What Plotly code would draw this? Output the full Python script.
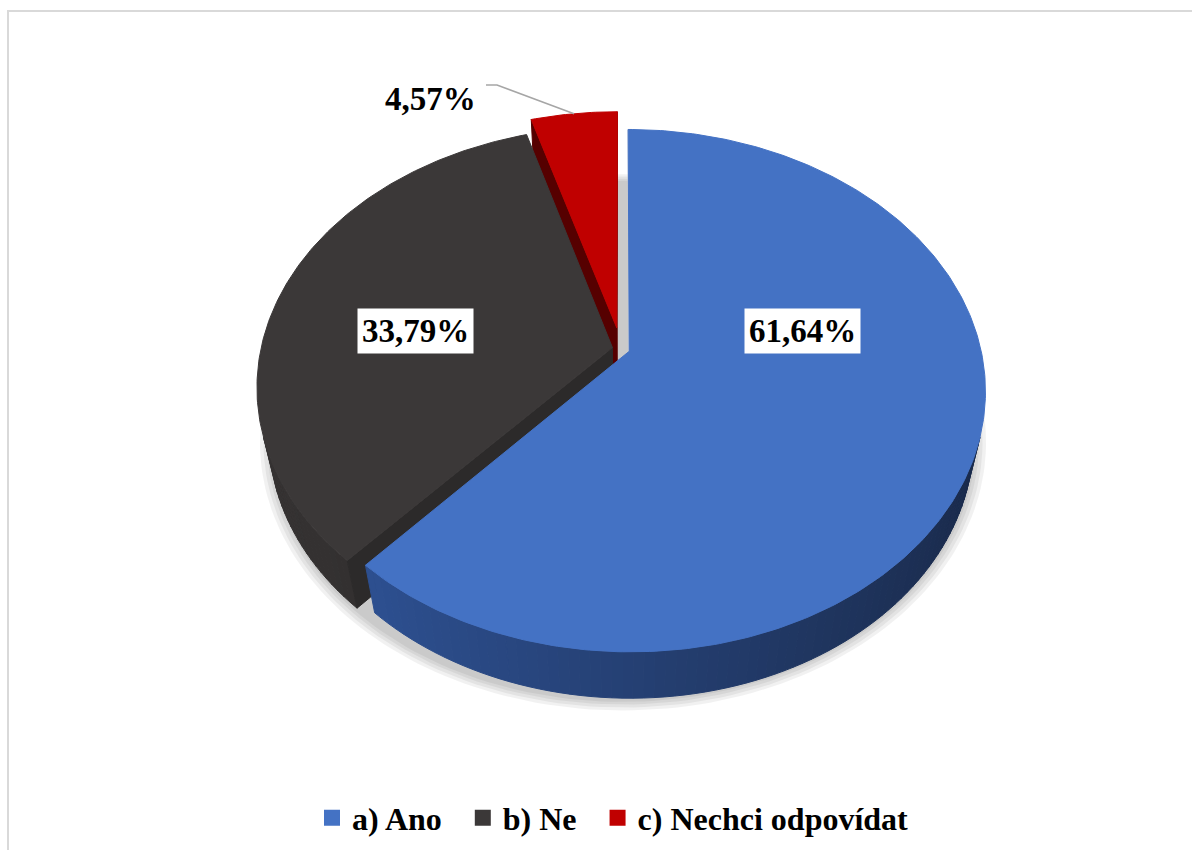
import numpy as np
import plotly.graph_objects as go

# ---- data ----
categories = ["a) Ano", "b) Ne", "c) Nechci odpovídat"]
shares = [61.64, 33.79, 4.57]
label_texts = ["61,64%", "33,79%", "4,57%"]

# ---- styling ----
top_colors = ["#4472C4", "#3B3838", "#C00000"]
wall_light = ["#31579E", "#363333", "#7A0000"]
wall_dark = ["#192949", "#242222", "#3F0000"]
cut_colors = ["#D3D6DD", "#2C2A2A", "#560000"]
explode = [0.025, 0.025, 0.085]

W, H = 1192, 850
CX, CY = 621, 349          # screen position of the disk centre
FOCAL = 1610.0
DIST = 4.58                # camera distance in disk radii
TILT = np.radians(46.4)
THICK = 0.21               # pie thickness in disk radii
SN, CS = np.sin(TILT), np.cos(TILT)
CAM = np.array([0.0, DIST * SN, -DIST * CS])


def project(X, Y, Z):
    X, Y, Z = np.asarray(X, float), np.asarray(Y, float), np.asarray(Z, float)
    dY = Y - DIST * SN
    dZ = Z + DIST * CS
    depth = -dY * SN + dZ * CS
    up = dY * CS + dZ * SN
    return CX + FOCAL * X / depth, CY - FOCAL * up / depth


def hex2rgb(h):
    h = h.lstrip("#")
    return np.array([int(h[i:i + 2], 16) for i in (0, 2, 4)], float)


def mix(c1, c2, t):
    c = hex2rgb(c1) * (1 - t) + hex2rgb(c2) * t
    return "rgb(%d,%d,%d)" % tuple(np.round(c).astype(int))


def poly(xs, ys, color, opacity=1.0, line=True):
    return go.Scatter(
        x=list(xs) + [xs[0]], y=list(ys) + [ys[0]],
        mode="lines", fill="toself", fillcolor=color,
        line=dict(color=color, width=1 if line else 0),
        opacity=opacity, hoverinfo="skip", showlegend=False,
    )


fig = go.Figure()

# soft drop shadow under the lower rim
th = np.radians(np.linspace(0, 360, 241))
sx, sy = project(1.02 * np.sin(th), -THICK, np.cos(th))
bx, by = project(0, -THICK, 0)
for s in (1.035, 1.025, 1.015, 1.006):
    fig.add_trace(poly(bx + (sx - bx) * s + 2, by + (sy - by) * s + 5,
                       "rgba(0,0,0,0.055)", line=False))

# slice angles, clockwise from the back of the disk
total = sum(shares)
bounds = np.concatenate([[0], np.cumsum(shares) / total * 360.0])
slices = []
for k in range(len(shares)):
    a0, a1 = bounds[k], bounds[k + 1]
    mid = np.radians((a0 + a1) / 2)
    off = np.array([explode[k] * np.sin(mid), 0.0, explode[k] * np.cos(mid)])
    slices.append((k, a0, a1, off))

# paint back-most slices first
slices.sort(key=lambda s: -s[3][2])

for k, a0, a1, off in slices:
    ox, oz = off[0], off[2]

    # outer curved wall, shaded from lit left to darker right
    n = max(int((a1 - a0) / 1.5), 2)
    ang = np.linspace(a0, a1, n + 1)
    for i in range(n):
        m = np.radians((ang[i] + ang[i + 1]) / 2)
        p = np.array([ox + np.sin(m), -THICK / 2, oz + np.cos(m)])
        nrm = np.array([np.sin(m), 0, np.cos(m)])
        if np.dot(nrm, CAM - p) <= 0:
            continue
        t = (np.sin(m) + 1) / 2
        seg = np.radians([ang[i], ang[i + 1]])
        X = ox + np.sin(seg)
        Z = oz + np.cos(seg)
        tx, ty = project(X, 0, Z)
        ux, uy = project(X, -THICK, Z)
        fig.add_trace(poly([tx[0], tx[1], ux[1], ux[0]],
                           [ty[0], ty[1], uy[1], uy[0]],
                           mix(wall_light[k], wall_dark[k], t)))

    # radial cut walls
    for a, sgn in ((a0, -1), (a1, 1)):
        r = np.radians(a)
        nrm = sgn * np.array([np.cos(r), 0, -np.sin(r)])
        p = np.array([ox + 0.5 * np.sin(r), -THICK / 2, oz + 0.5 * np.cos(r)])
        if np.dot(nrm, CAM - p) <= 0:
            continue
        X = [ox, ox + np.sin(r), ox + np.sin(r), ox]
        Y = [0, 0, -THICK, -THICK]
        Z = [oz, oz + np.cos(r), oz + np.cos(r), oz]
        px, py = project(X, Y, Z)
        fig.add_trace(poly(px, py, cut_colors[k]))

    # top face
    ang_r = np.radians(np.linspace(a0, a1, n * 2 + 1))
    X = np.concatenate([[ox], ox + np.sin(ang_r)])
    Z = np.concatenate([[oz], oz + np.cos(ang_r)])
    px, py = project(X, np.zeros_like(X), Z)
    fig.add_trace(poly(px, py, top_colors[k]))

# legend entries (non-breaking spaces widen the gap between entries)
for k, name in enumerate(categories):
    pad = "\u00a0\u00a0" if k < len(categories) - 1 else ""
    fig.add_trace(go.Scatter(
        x=[None], y=[None], mode="markers", name=name + pad,
        marker=dict(symbol="square", size=17, color=top_colors[k]),
        showlegend=True,
    ))

# data labels
font_lbl = dict(family="Liberation Serif", size=33, color="black", weight="bold")
fig.add_annotation(x=802, y=331, text=label_texts[0], showarrow=False,
                   bgcolor="white", borderpad=4, font=font_lbl)
fig.add_annotation(x=415, y=331, text=label_texts[1], showarrow=False,
                   bgcolor="white", borderpad=4, font=font_lbl)
fig.add_annotation(x=430, y=99, text=label_texts[2], showarrow=False,
                   font=font_lbl)

# leader line to the small slice
k_red = 2
a0, a1 = bounds[k_red], bounds[k_red + 1]
mid = np.radians((a0 + a1) / 2)
ex, ey = project((explode[k_red] + 1) * np.sin(mid), 0,
                 (explode[k_red] + 1) * np.cos(mid))
fig.add_shape(type="path", xref="x", yref="y",
              path=f"M 486 85 L 497 85 L {float(ex):.1f} {float(ey):.1f}",
              line=dict(color="#A6A6A6", width=1.5))

# outer chart border
fig.add_shape(type="rect", xref="x", yref="y", x0=8, y0=11, x1=1210, y1=870,
              line=dict(color="#D9D9D9", width=2), layer="below")

fig.update_layout(
    width=W, height=H,
    margin=dict(l=0, r=0, t=0, b=0),
    paper_bgcolor="white", plot_bgcolor="white",
    xaxis=dict(range=[0, W], visible=False, fixedrange=True),
    yaxis=dict(range=[H, 0], visible=False, fixedrange=True),
    showlegend=True,
    legend=dict(orientation="h", x=312 / W, xanchor="left",
                y=1 - 818 / H, yanchor="middle",
                font=dict(family="Liberation Serif", size=32, color="black",
                          weight="bold"),
                itemwidth=30, bgcolor="rgba(0,0,0,0)"),
)

fig.write_html("out.html")
